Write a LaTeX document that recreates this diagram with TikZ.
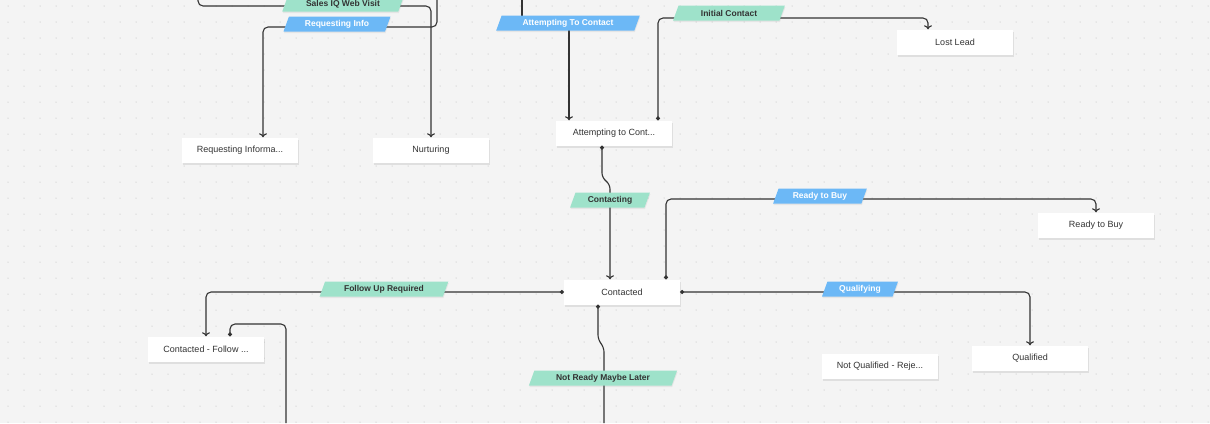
\documentclass[tikz,border=0pt]{standalone}
\usepackage{fontspec}
\setmainfont{Liberation Sans}
\usetikzlibrary{shapes.geometric,arrows.meta,shadows}
\definecolor{bg}{HTML}{F4F4F4}
\definecolor{dotc}{HTML}{B4B4B4}
\definecolor{lgreen}{HTML}{9EE2CA}
\definecolor{lblue}{HTML}{6CB8F6}
\definecolor{txt}{HTML}{333333}
\definecolor{ln}{HTML}{333333}
\tikzset{
 state/.style={draw=none,fill=white,minimum width=116pt,minimum height=25pt,inner sep=2pt,font=\fontsize{9}{11}\selectfont,text=txt,drop shadow={opacity=0.18,shadow xshift=1pt,shadow yshift=-2.5pt}},
 lab/.style={trapezium,trapezium left angle=70,trapezium right angle=110,minimum height=15pt,inner sep=1.5pt,inner xsep=3pt,font=\bfseries\fontsize{8.5}{10}\selectfont,drop shadow={opacity=0.12,shadow xshift=0.5pt,shadow yshift=-1.5pt}},
 glab/.style={lab,fill=lgreen,text=txt},
 blab/.style={lab,fill=lblue,text=white},
 conn/.style={draw=ln,line width=1.1pt,rounded corners=5pt},
 arr/.style={conn,-{To[length=4pt,width=8pt]}},
 darr/.style={conn,{Circle[length=4pt]}-{To[length=4pt,width=8pt]}},
}
\begin{document}
\begin{tikzpicture}[x=1pt,y=-1pt]
\fill[bg] (0,0) rectangle (1210,423);
\useasboundingbox (0,0) rectangle (1210,423);
\foreach \i in {0,...,75}{\foreach \j in {0,...,26}{\fill[dotc] (8+16*\i,6+16*\j) circle (0.5pt);}}
% states
\node[state] (ri) at (240,150) {Requesting Informa...};
\node[state] (nu) at (431,150) {Nurturing};
\node[state] (at) at (614,133) {Attempting to Cont...};
\node[state] (ll) at (955,42) {Lost Lead};
\node[state] (rb) at (1096,225) {Ready to Buy};
\node[state] (co) at (622,292) {Contacted};
\node[state] (cf) at (206,349) {Contacted - Follow ...};
\node[state] (nq) at (880,366) {Not Qualified - Reje...};
\node[state] (qu) at (1030,358) {Qualified};
% free ends
\coordinate (t1) at (198,0);
\coordinate (t2) at (437,0);
\coordinate (t3) at (522,0);
\coordinate (t3e) at (522,17);
\coordinate (t3s) at (569,30);
\coordinate (b1) at (604,423);
\coordinate (b2) at (286,423);
% connectors
\draw[arr] (t1) -- (198,6) -- (431,6) -- (nu.north);
\draw[arr] (t2) -- (437,27) -- (263,27) -- (ri.north -| 263,0);
\draw[conn] (t3) -- (t3e);
\draw[arr] (t3s) -- (at.north -| t3s);
\draw[darr] (at.north -| 658,0) -- (658,18) -- (928,18) -- (ll.north -| 928,0);
\draw[darr] (at.south -| 602,0) -- (602,178) -- (610,184) -- (co.north -| 610,0);
\draw[darr] (co.north -| 666,0) -- (666,199) -- (1096,199) -- (rb.north);
\draw[darr] (co.west) -- (206,292) -- (cf.north);
\draw[darr] (co.east) -- (1030,292) -- (qu.north);
\draw[conn,{Circle[length=4pt]}-] (co.south -| 598,0) -- (598,340) -- (604,347) -- (b1);
\draw[conn,{Circle[length=4pt]}-] (cf.north -| 230,0) -- (230,324) -- (286,324) -- (b2);
% labels
\node[glab] (l1) at (343,4) {Sales IQ Web Visit};
\node[blab] (l2) at (337,24) {Requesting Info};
\node[blab] (l3) at (568,23) {Attempting To Contact};
\node[glab] (l4) at (729,13) {Initial Contact};
\node[glab] (l5) at (610,200) {Contacting};
\node[blab] (l6) at (820,196) {Ready to Buy};
\node[glab] (l7) at (384,289) {Follow Up Required};
\node[blab] (l8) at (860,289) {Qualifying};
\node[glab] (l9) at (603,378) {Not Ready Maybe Later};
\end{tikzpicture}
\end{document}
